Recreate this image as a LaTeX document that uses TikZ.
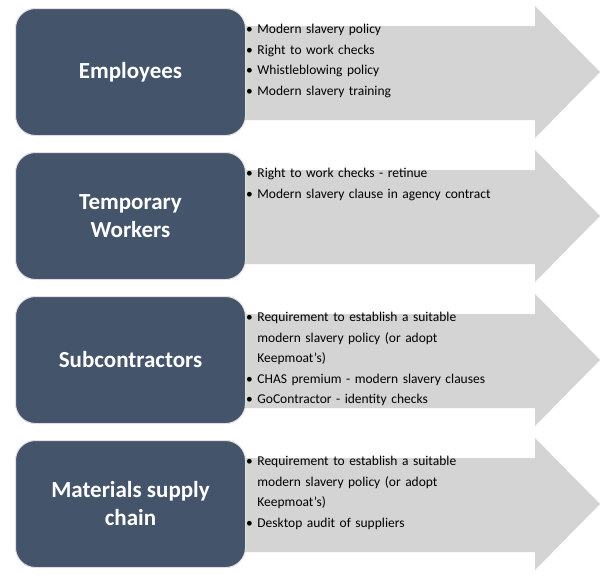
\documentclass[tikz,border=0pt]{standalone}
\usepackage{fontspec}
\setmainfont{Carlito}
\begin{document}
\begin{tikzpicture}[x=1pt,y=-1pt,
  arrowshape/.style={fill=black!17,draw=none},
  catbox/.style={fill={rgb,255:red,68;green,84;blue,106},draw=black!12,line width=1pt,rounded corners=20pt,minimum width=230pt,minimum height=127pt,text=white,font=\bfseries\fontsize{23}{28}\selectfont,align=center,anchor=north west},
  items/.style={anchor=north west,align=left,font=\fontsize{13.5}{20.5}\selectfont,inner sep=0pt,text width=290pt}]
\useasboundingbox (0,0) rectangle (616,576);
\foreach \y/\name/\title/\txt in {
 0/a/Employees/{• Modern slavery policy\\• Right to work checks\\• Whistleblowing policy\\• Modern slavery training},
 144/b/{Temporary\\Workers}/{• Right to work checks - retinue\\• Modern slavery clause in agency contract},
 288/c/Subcontractors/{• Requirement to establish a suitable\\\hphantom{• }modern slavery policy (or adopt\\\hphantom{• }Keepmoat's)\\• CHAS premium - modern slavery clauses\\• GoContractor - identity checks},
 432/d/{Materials supply\\chain}/{• Requirement to establish a suitable\\\hphantom{• }modern slavery policy (or adopt\\\hphantom{• }Keepmoat's)\\• Desktop audit of suppliers}}{
  \fill[arrowshape] (240,26+\y) -- (535,26+\y) -- (535,6+\y) -- (600,72+\y) -- (535,138+\y) -- (535,120+\y) -- (240,120+\y) -- cycle;
  \node[catbox] (\name) at (15,8+\y) {\title};
  \node[items] (\name t) at (246,24+\y) {\txt};
}
\end{tikzpicture}
\end{document}
